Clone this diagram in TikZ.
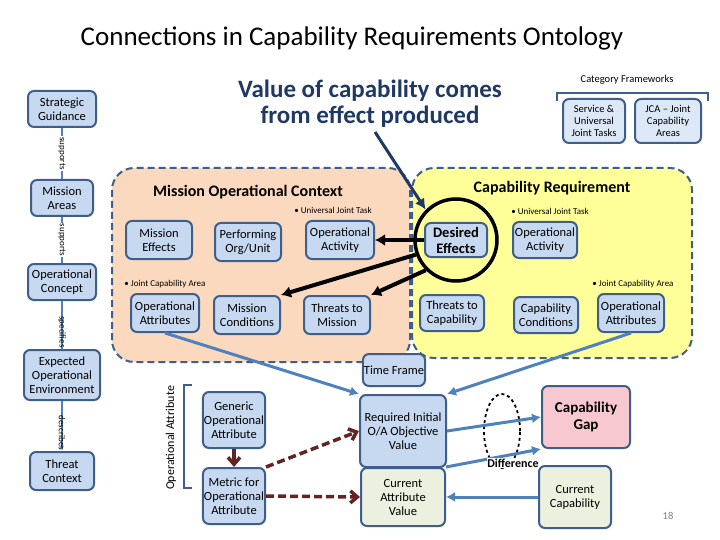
\documentclass[tikz,border=0pt]{standalone}
\usepackage{fontspec}
\setmainfont{Carlito}
\usetikzlibrary{arrows.meta,shapes.geometric}
\definecolor{bx}{HTML}{C6D9F1}
\definecolor{bd}{HTML}{3F5F8A}
\definecolor{peach}{HTML}{FBD9BE}
\definecolor{yel}{HTML}{FFFF99}
\definecolor{grn}{HTML}{EBF1DE}
\definecolor{pnk}{HTML}{F8C8D0}
\definecolor{ttl}{HTML}{1F3864}
\definecolor{lnk}{HTML}{4F81BD}
\definecolor{dred}{HTML}{632523}
\begin{document}
\begin{tikzpicture}[x=1pt,y=-1pt,
 box/.style={draw=bd,line width=2pt,fill=bx,rounded corners=6pt,align=center,font=\fontsize{12.5}{14}\selectfont,inner sep=1pt},
 region/.style={draw=bd,dashed,line width=2pt,rounded corners=22pt,dash pattern=on 7pt off 4pt},
 small/.style={font=\fontsize{9}{10}\selectfont},
 lk/.style={draw=lnk,line width=3pt,-{Latex[length=9pt,width=10pt]}},
 bk/.style={draw=black,line width=4pt,-{Latex[length=10pt,width=12pt]}},
 rd/.style={draw=dred,line width=3.5pt,dash pattern=on 8pt off 4pt,-{Straight Barb[length=7pt,width=12pt]}},
 vl/.style={draw=lnk,line width=1.6pt},
 rl/.style={font=\fontsize{9}{10}\selectfont,rotate=-90,fill=white,inner sep=1pt}]
\useasboundingbox (0,0) rectangle (720,540);
\node[font=\fontsize{27}{30}\selectfont] (title) at (352,38) {Connections in Capability Requirements Ontology};
\node[font=\bfseries\fontsize{25}{26}\selectfont,text=ttl,align=center] (sub) at (370,104) {Value of capability comes\\from effect produced};
% regions
\draw[region,fill=peach] (112,168) rectangle (410,362);
\draw[region,fill=yel] (412,168) rectangle (692,358);
\node[font=\bfseries\fontsize{16}{18}\selectfont] (moc) at (248,192) {Mission Operational Context};
\node[font=\bfseries\fontsize{16}{18}\selectfont] (cr) at (552,188) {Capability Requirement};
\node[small] (u1) at (333,210) {• Universal Joint Task};
\node[small] (u2) at (550,211) {• Universal Joint Task};
\node[small] (j1) at (165,284) {• Joint Capability Area};
\node[small] (j2) at (633,284) {• Joint Capability Area};
% left column
\node[box,minimum width=68pt,minimum height=36pt] (sg) at (62,109) {Strategic\\Guidance};
\node[box,minimum width=62pt,minimum height=36pt] (ma) at (62,198) {Mission\\Areas};
\node[box,minimum width=68pt,minimum height=36pt] (oc) at (62,282) {Operational\\Concept};
\node[box,minimum width=76pt,minimum height=50pt] (eoe) at (62,375) {Expected\\Operational\\Environment};
\node[box,minimum width=64pt,minimum height=38pt] (tc) at (62,471) {Threat\\Context};
\draw[vl] (sg) -- node[rl]{supports} (ma);
\draw[vl] (ma) -- node[rl]{supports} (oc);
\draw[vl] (oc) -- node[rl,xshift=7pt,fill=none]{specifies} (eoe);
\draw[vl,-{Latex[length=5pt]}] (eoe) -- node[rl,xshift=7pt,fill=none]{describes} (tc);
% MOC
\node[box,minimum width=66pt,minimum height=38pt] (me) at (159,240) {Mission\\Effects};
\node[box,minimum width=66pt,minimum height=38pt] (po) at (248,242) {Performing\\Org/Unit};
\node[box,minimum width=68pt,minimum height=38pt] (oa1) at (340,240) {Operational\\Activity};
\node[box,minimum width=68pt,minimum height=38pt] (oat1) at (165,313) {Operational\\Attributes};
\node[box,minimum width=66pt,minimum height=38pt] (mc) at (247,315) {Mission\\Conditions};
\node[box,minimum width=66pt,minimum height=38pt] (tm) at (337,315) {Threats to\\Mission};
% CR
\node[box,minimum width=62pt,minimum height=34pt,font=\bfseries\fontsize{14.5}{16}\selectfont] (de) at (456,240) {Desired\\Effects};
\node[draw=black,line width=3.5pt,circle,minimum size=82pt] (circ) at (456,240) {};
\node[box,minimum width=64pt,minimum height=36pt] (oa2) at (545,240) {Operational\\Activity};
\node[box,minimum width=64pt,minimum height=36pt] (tcap) at (452,313) {Threats to\\Capability};
\node[box,minimum width=64pt,minimum height=36pt] (cc) at (546,315) {Capability\\Conditions};
\node[box,minimum width=66pt,minimum height=38pt] (oat2) at (631,313) {Operational\\Attributes};
% category frameworks
\node[font=\fontsize{10.5}{12}\selectfont] (cf) at (627,80) {Category Frameworks};
\draw[bd,line width=1.5pt] (557,101) -- (557,93) -- (708,93) -- (708,101);
\node[box,minimum width=62pt,minimum height=44pt,fill=bx!60,font=\fontsize{10.5}{12}\selectfont] (su) at (594,121) {Service \&\\Universal\\Joint Tasks};
\node[box,minimum width=66pt,minimum height=44pt,fill=bx!60,font=\fontsize{10.5}{12}\selectfont] (jca) at (668,121) {JCA – Joint\\Capability\\Areas};
% lower
\node[box,minimum width=62pt,minimum height=32pt] (tf) at (394,370) {Time Frame};
\node[font=\fontsize{12}{14}\selectfont,rotate=90] (oal) at (171,438) {Operational Attribute};
\draw[bd,line width=1.5pt] (192,385) -- (184,385) -- (184,488) -- (192,488);
\node[box,minimum width=62pt,minimum height=56pt] (goa) at (234,420) {Generic\\Operational\\Attribute};
\node[box,minimum width=62pt,minimum height=56pt] (mfa) at (234,496) {Metric for\\Operational\\Attribute};
\node[box,minimum width=86pt,minimum height=72pt] (riv) at (403,431) {Required Initial\\O/A Objective\\Value};
\node[box,minimum width=84pt,minimum height=58pt,fill=grn] (cav) at (403,497) {Current\\Attribute\\Value};
\node[box,minimum width=88pt,minimum height=62pt,fill=pnk,font=\bfseries\fontsize{15}{17}\selectfont] (gap) at (586,417) {Capability\\Gap};
\node[box,minimum width=72pt,minimum height=62pt,fill=grn] (ccap) at (575,497) {Current\\Capability};
\node[draw=black,line width=1.8pt,dashed,ellipse,minimum width=36pt,minimum height=74pt] (diff) at (502,431) {};
\node[text=gray,font=\fontsize{10.5}{12}\selectfont] (pg) at (668,516) {18};
% arrows
\draw[ttl,line width=3pt,-{Latex[length=11pt,width=11pt]}] (375,132) -- (circ.north west);
\draw[bk] (de.west) -- (oa1.east);
\draw[bk] (circ.200) -- (mc.north east);
\draw[bk] (circ.225) -- (tm.north east);
\draw[lk] (oat1.south) -- (riv.north west);
\draw[lk] (oat2.south) -- (riv.north east);
\draw[lk] (riv.east) -- (gap.west);
\draw[lk] (cav.north east) -- (gap.south west);
\draw[lk] (ccap.west) -- (cav.east);
\draw[dred,line width=3.5pt,-{Straight Barb[length=7pt,width=12pt]}] (goa) -- (mfa);
\draw[rd] (mfa.north east) -- (riv.west);
\draw[rd] (mfa.east) -- (cav.west);
\node[font=\bfseries\fontsize{12}{14}\selectfont,fill=white,inner sep=0.5pt] (difl) at (513,463) {Difference};
\end{tikzpicture}
\end{document}
